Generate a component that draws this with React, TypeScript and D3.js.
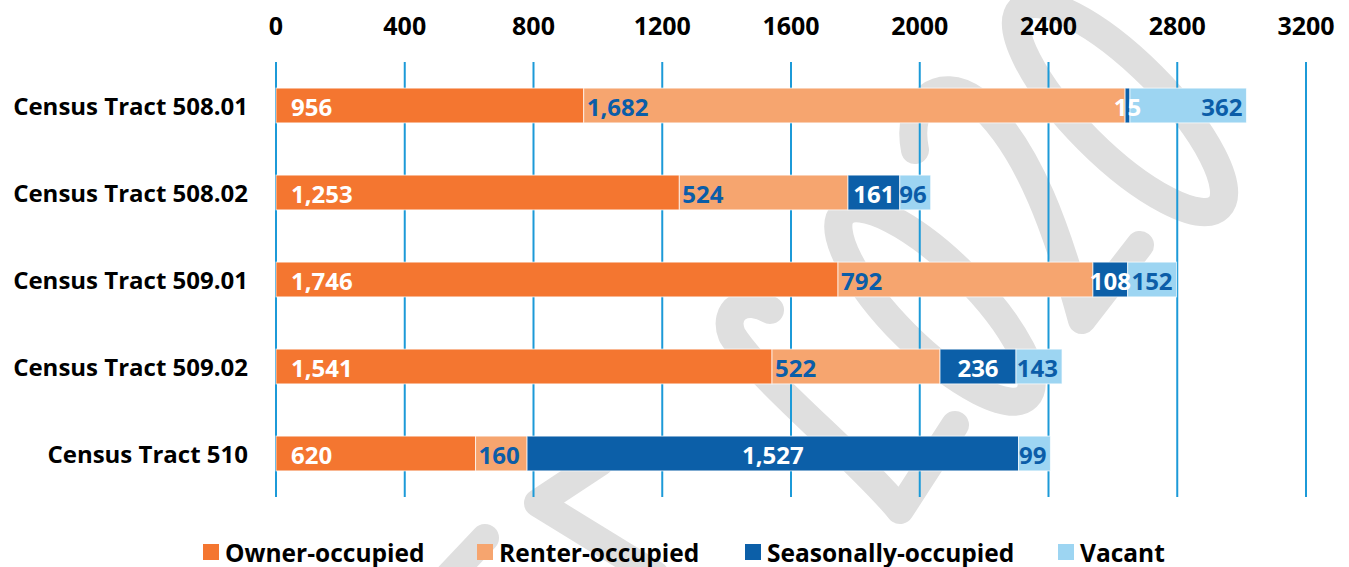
import React, { useEffect, useRef } from "react";
import * as d3 from "d3";

// --- Data ---
const tracts = [
  "Census Tract 508.01",
  "Census Tract 508.02",
  "Census Tract 509.01",
  "Census Tract 509.02",
  "Census Tract 510",
];
const seriesNames = ["Owner-occupied", "Renter-occupied", "Seasonally-occupied", "Vacant"];
const ownerOccupied = [956, 1253, 1746, 1541, 620];
const renterOccupied = [1682, 524, 792, 522, 160];
const seasonallyOccupied = [15, 161, 108, 236, 1527];
const vacant = [362, 96, 152, 143, 99];
const xTicks = [0, 400, 800, 1200, 1600, 2000, 2400, 2800, 3200];

const colors = ["#F47630", "#F6A56F", "#0C5FA8", "#9DD5F2"];
const labelColors = ["#fff", "#0B5DA8", "#fff", "#0B5DA8"];
const legendX = [203, 477, 745, 1058];
const FONT = "'Open Sans', 'DejaVu Sans', sans-serif";

export default function App() {
  const svgRef = useRef<SVGSVGElement>(null);
  const width = 1349;
  const height = 567;

  useEffect(() => {
    const svg = d3.select(svgRef.current);
    svg.selectAll("*").remove();

    const x = d3.scaleLinear().domain([0, 3200]).range([276, 1306]);
    const y = d3.scaleBand().domain(tracts).range([62, 497]).paddingInner(0.6).paddingOuter(0.3);

    // --- faint watermark scribble behind the chart ---
    const wm = svg.append("g")
      .attr("fill", "none")
      .attr("stroke", "#dfdfdf")
      .attr("stroke-width", 28)
      .attr("stroke-linecap", "round")
      .attr("stroke-linejoin", "round");
    wm.append("ellipse")
      .attr("cx", 1120).attr("cy", 108).attr("rx", 140).attr("ry", 45)
      .attr("transform", "rotate(45 1120 108)");
    wm.append("path").attr("d", "M915 150 C905 100 940 75 975 100 C1030 145 1060 240 1082 320 L1140 245");
    wm.append("ellipse")
      .attr("cx", 935).attr("cy", 305).attr("rx", 130).attr("ry", 42)
      .attr("transform", "rotate(45 935 305)");
    wm.append("path").attr("d", "M955 425 L900 510 C860 460 760 380 732 335 C722 310 745 295 770 310");
    wm.append("path").attr("d", "M600 462 L538 503 L655 575");
    wm.append("path").attr("d", "M450 575 L485 538");

    // --- grid ---
    svg.append("g")
      .selectAll("line")
      .data(xTicks)
      .join("line")
      .attr("x1", d => x(d))
      .attr("x2", d => x(d))
      .attr("y1", 62)
      .attr("y2", 497)
      .attr("stroke", "#1C9AD8")
      .attr("stroke-width", 2);

    // --- top axis labels ---
    svg.append("g")
      .selectAll("text")
      .data(xTicks)
      .join("text")
      .attr("x", d => x(d))
      .attr("y", 25)
      .attr("text-anchor", "middle")
      .attr("dominant-baseline", "central")
      .style("font-family", FONT)
      .style("font-weight", 700)
      .style("font-size", "25px")
      .attr("fill", "#000")
      .text(d => String(d));

    // --- category labels ---
    svg.append("g")
      .selectAll("text")
      .data(tracts)
      .join("text")
      .attr("x", 248)
      .attr("y", d => (y(d) as number) + y.bandwidth() / 2)
      .attr("text-anchor", "end")
      .attr("dominant-baseline", "central")
      .style("font-family", FONT)
      .style("font-weight", 700)
      .style("font-size", "24px")
      .attr("fill", "#000")
      .text(d => d);

    // --- stacked bars ---
    const rows = tracts.map((t, i) => ({
      tract: t,
      vals: [ownerOccupied[i], renterOccupied[i], seasonallyOccupied[i], vacant[i]],
    }));

    const segs: any[] = [];
    rows.forEach(r => {
      let acc = 0;
      r.vals.forEach((v, k) => {
        segs.push({ tract: r.tract, k, v, x0: acc, x1: acc + v });
        acc += v;
      });
    });

    svg.append("g")
      .selectAll("rect")
      .data(segs)
      .join("rect")
      .attr("x", d => x(d.x0))
      .attr("y", d => y(d.tract) as number)
      .attr("width", d => x(d.x1) - x(d.x0))
      .attr("height", y.bandwidth())
      .attr("fill", d => colors[d.k])
      .attr("stroke", "rgba(255,255,255,0.7)")
      .attr("stroke-width", 1);

    const fmt = d3.format(",");
    svg.append("g")
      .selectAll("text")
      .data(segs)
      .join("text")
      .attr("x", d => {
        if (d.k === 0) return x(d.x0) + 15;
        if (d.k === 1) return x(d.x0) + 3;
        if (d.k === 2) return (x(d.x0) + x(d.x1)) / 2;
        return x(d.x1) - 4;
      })
      .attr("y", d => (y(d.tract) as number) + y.bandwidth() / 2 + 1)
      .attr("text-anchor", d => (d.k === 0 || d.k === 1 ? "start" : d.k === 2 ? "middle" : "end"))
      .attr("dominant-baseline", "central")
      .style("font-family", FONT)
      .style("font-weight", 700)
      .style("font-size", "24px")
      .attr("fill", d => labelColors[d.k])
      .text(d => fmt(d.v));

    // --- legend ---
    const items = svg.append("g")
      .selectAll("g")
      .data(seriesNames)
      .join("g")
      .attr("transform", (d, i) => `translate(${legendX[i]},0)`);
    items.append("rect")
      .attr("width", 16)
      .attr("height", 16)
      .attr("y", 544)
      .attr("fill", (d, i) => colors[i]);
    items.append("text")
      .attr("x", 22)
      .attr("y", 552)
      .attr("dominant-baseline", "central")
      .style("font-family", FONT)
      .style("font-weight", 700)
      .style("font-size", "24.5px")
      .attr("fill", "#000")
      .text(d => d);
  }, []);

  return (
    <svg
      ref={svgRef}
      width={width}
      height={height}
      style={{ position: "absolute", left: 0, top: 0, background: "#fff" }}
    />
  );
}
